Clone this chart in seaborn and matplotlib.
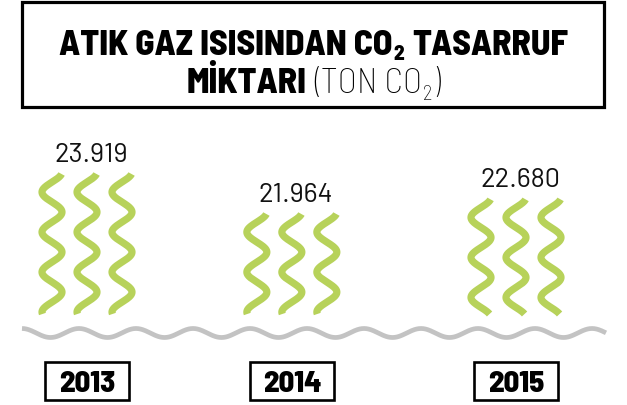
import numpy as np
import matplotlib
matplotlib.use("Agg")
import matplotlib.pyplot as plt
import seaborn as sns
from matplotlib import font_manager as fm
from matplotlib import transforms
from matplotlib.patches import Rectangle

# data
years = ["2013", "2014", "2015"]
savings_ton = [23919, 21964, 22680]

# layout
W, H = 627, 406
x_pos = [0.0, 0.955, 2.0]        # group slots
base = 17.08                     # value at wave foot (thousand t)
px_x = 214.5                     # px per x unit
px_y = 20.47                     # px per thousand t
green = "#B7D25A"
grey = "#C3C3C3"

avail = {f.name for f in fm.fontManager.ttflist}
def pick(*names):
    for n in names:
        if n in avail:
            return n
    return "DejaVu Sans"

head_font = pick("Barlow Semi Condensed", "Roboto Condensed", "Barlow", "Roboto")
num_font = pick("Barlow", "Roboto", "Lato")

sns.set_theme(style="white")
plt.rcParams["font.family"] = [head_font, "DejaVu Sans"]

fig = plt.figure(figsize=(W / 100, H / 100), dpi=100)
ax = fig.add_axes([0, 0, 1, 1])
ax.set_xlim(-87 / px_x, (W - 87) / px_x)
foot_px = 315
ax.set_ylim(base - (H - foot_px) / px_y, base + foot_px / px_y)
ax.axis("off")

# green waves, one group per year
amp = 10 / px_x
period = 40 / px_y
gap = 35 / px_x
for xc, val in zip(x_pos, savings_ton):
    v = val / 1000
    yy = np.linspace(base, v, 400)
    for k in (-1, 0, 1):
        xx = xc + k * gap + amp * np.cos(2 * np.pi * (v - yy) / period + 0.3)
        sns.lineplot(x=xx, y=yy, sort=False, estimator=None, color=green,
                     linewidth=5.2, solid_capstyle="butt", ax=ax)
    label = f"{val:,}".replace(",", ".")
    ax.annotate(label, (xc, v), xytext=(4, 13), textcoords="offset pixels",
                ha="center", va="baseline", fontsize=19.5, fontweight="normal",
                family=[num_font, "DejaVu Sans"], color="#111111")

# grey ground wave
gx = np.linspace((22 - 87) / px_x, (606 - 87) / px_x, 800)
gy = base - 19 / px_y + (4.5 / px_y) * np.cos(2 * np.pi * (gx - gx[0]) / (57 / px_x))
sns.lineplot(x=gx, y=gy, sort=False, estimator=None, color=grey,
             linewidth=3.4, solid_capstyle="butt", ax=ax)

# year boxes
tr = transforms.blended_transform_factory(ax.transData, ax.transAxes)
bw, bh = 84 / px_x, 38 / H
by = (H - 401) / H
for xc, yr in zip(x_pos, years):
    ax.add_patch(Rectangle((xc - bw / 2, by), bw, bh, transform=tr, fill=False,
                           edgecolor="black", linewidth=1.9, clip_on=False))
    ax.text(xc, by + bh / 2, yr, transform=tr, ha="center", va="center_baseline",
            fontsize=22, fontweight="heavy", color="black")

# title box
fig.patches.append(Rectangle((22 / W, 1 - 108 / H), 582 / W, 105 / H,
                             transform=fig.transFigure, fill=False,
                             edgecolor="black", linewidth=2.3))

renderer = fig.canvas.get_renderer()

def draw_runs(runs, base_px):
    items = []
    for s, weight, size, dy, pad in runs:
        t = fig.text(0, 0, s, fontsize=size, fontweight=weight, ha="left",
                     va="baseline", color="black")
        items.append((t, dy, pad))
    widths = [t.get_window_extent(renderer).width for t, _, _ in items]
    total = sum(widths) + sum(p for _, _, p in items)
    x = (W - total) / 2
    for (t, dy, pad), w in zip(items, widths):
        x += pad
        t.set_position((x / W, 1 - (base_px + dy) / H))
        x += w

draw_runs([("ATIK GAZ ISISINDAN CO", "heavy", 25.5, 0, 0),
           ("2", "heavy", 15, 5, 1),
           ("TASARRUF", "heavy", 25.5, 0, 9)], 55)
draw_runs([("MİKTARI", "heavy", 25.5, 0, 0),
           ("(TON CO", "light", 25.5, 0, 7),
           ("2", "light", 15, 7, 1),
           (")", "light", 25.5, 0, 1)], 93)

fig.savefig("out.png", dpi=100, facecolor="white")
